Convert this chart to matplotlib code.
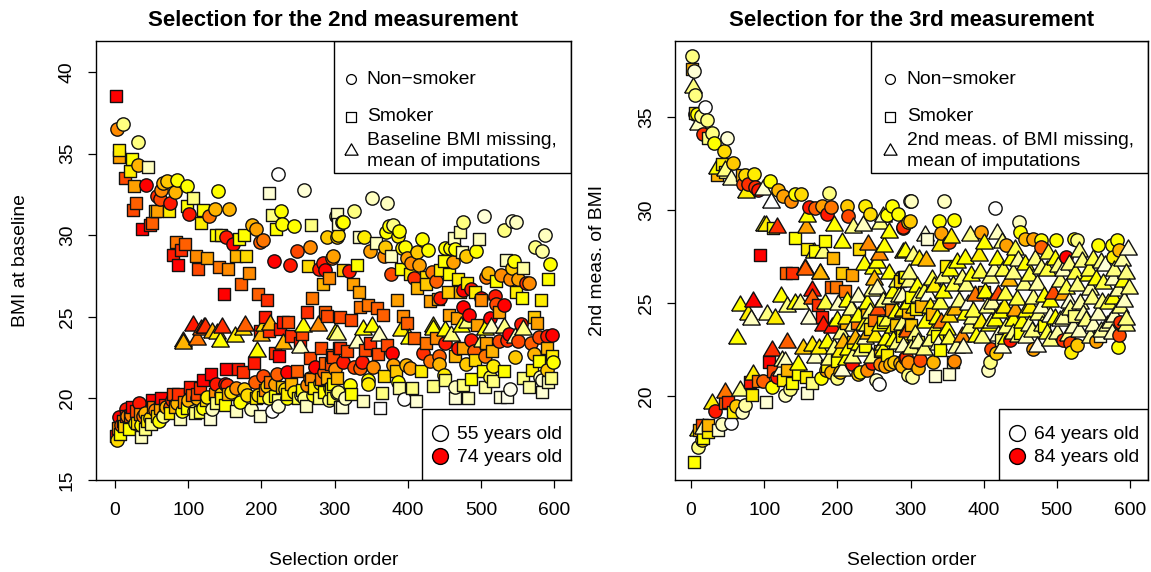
import matplotlib
matplotlib.use("Agg")
import matplotlib.pyplot as plt
from matplotlib.colors import LinearSegmentedColormap
from matplotlib.patches import Rectangle

plt.rcParams['font.family'] = ['Liberation Sans', 'DejaVu Sans']

# (selection order, BMI, colour level: 55 = palest ... 74 = red)
left_circles = [
(11.4,36.8,60),(2.3,36.5,68),(31,35.7,60),(31,34.3,66),(42,33.1,74),(223,33.75,55),(258,32.75,57),(141,32.7,62),
(84,33.4,62),(71,33.3,65),(66,33.2,66),(98,33,62),(81.5,32.65,66),(62.4,32.8,68),(57,32.4,72),(61.5,32.2,71),
(75,32,73),(101.5,31.3,73),(128,31.2,69),(136,31.6,66),(156,31.6,66),(227,31.5,62),(228,30.7,62),(245,30.55,62),
(187.5,30.6,66),(193,30.4,67),(198,29.6,70),(202,29.7,69),(151,29.9,73),(161,29.45,74),(290,29.9,65),(303,29.9,65),
(302,31.2,60),(310,30.8,62),(266,29.3,68),(248,29.05,71),(217,28.4,74),(239,28.2,73),(284,28.3,73),(298,28.7,67),
(296,28.6,70),(279,27.9,73),(287,27.85,74),
(351,32.25,58),(372,32,58),(327,31.5,60),(312,30.8,62),(304,30,64),(340,29.9,63),(380,30.6,60),(375,30.55,62),
(370,30.2,62),(388.6,30.25,62),(387,29.95,63),(348.5,29.05,67),(367,28.7,68),(369.5,29.3,65),(396,29.3,62),(392,29.2,63),
(412,29,65),(420,29.75,62),(427.5,29.1,62),(399,28.6,67),(405,28.3,68),(416,28.2,67),(377,27.65,71),(409,27.35,72),
(433,27.75,69),(438,27.2,70),(451,29.2,62),(458,29.2,62),(465,29.15,62),(493.5,29.05,62),(480,28.7,65),(462,28.35,67),
(476,30.8,60),(503.5,31.2,57),(531,30.3,60),(542.5,30.9,57),(547.5,30.8,58),(588,30,58),(574,29.25,60),(584,29.05,59),
(594.5,28.25,62),(545,28.4,62),(542,28,65),(509,27.7,66),(507,27.45,69),(527,27.55,68),(540,27.3,68),(551,27.3,67),
(562,27.1,72),(566,27.1,68),(487,26.7,73),(476,26.65,74),(444,26.15,73),(500,26.15,74),(519,26.3,73),(520,25.8,71),
(532,25.7,74),(476,25.6,74),(484,25.1,74),(513,24.9,74),(554.5,24.55,73),(537.8,23.95,74),(536,23.6,72),(524,23.5,71),
(551,23.5,71),(597,23.9,74),(590,23.85,73),(578.6,23.75,71),(569,23.4,70),(487,23.6,73),(451,23.4,73),(468,23.1,73),
(491,22.9,70),(505,22.6,69),(421,22.8,72),(430,22.3,69),(443,22.6,70),(443,22.1,66),(319,27.8,73),(379,22.8,74),
(353,21.9,68),(338,22.2,73),(312,22.2,73),(326,21.95,71),(335,21.85,70),(546.9,22.55,65),(573,22.75,66),(598,22.2,62),
(590,21.75,65),(380,22.05,67),(398,22.05,66),(402.5,21.85,67),(321,20.8,62),(346,21.1,62),(387,21,62),(395,19.95,55),
(449,21.45,63),(465,20.7,58),(512,21.3,61),(540,20.55,56),(580,21.3,58),(583,21.1,57),(305,20.4,60),(314,20,58),
(346,20.9,63),(517,22,63),(479,22.1,65),
(3,17.45,64),(5,18.85,74),(14.6,19.35,73),(32.8,19.7,73),(16,18.9,68),(27.3,18.5,62),(41,19.1,66),(38.7,18.9,69),
(54.7,19.3,68),(66,18.9,60),(77.5,19.9,72),(75,19.5,70),(91,19.2,62),(112,20,66),(125.3,20.1,63),(132,19.35,58),
(150,20.9,74),(138,20.9,73),(152.6,20.8,72),(165.4,20.65,68),(171,19.8,62),(185.4,19.35,58),(214,19.25,55),(223,19.55,57),
(176,20.55,65),(191,21,70),(207,20.75,65),(202.7,21.4,71),(221,21.5,70),(219,20.9,67),(234.6,21.6,74),(232,20.55,64),
(234.6,20,62),(254,20.2,58),(262,20.85,68),(266.5,21.25,70),(280.5,20.95,62),(273.6,21.9,74),(303,20.35,60),(294,20.65,63),
(196,20.2,64),(210,20,61),(244,20.4,63),(258,20,60),(270,20.2,62),(285,21.6,70),(300,21.8,68),(292,19.9,60),
(8,18.4,70),(22,19,68),(36,18.4,62),(48,18.8,64),(60,18.6,62),(70,19.5,66),(85,19.7,66),(100,19.9,66),
(108,19.2,60),(120,19.4,62),(145,20.3,65),(158,20.4,64),(180,20.2,64),
]
left_squares = [
(1,38.5,74),(5.5,35.2,63),(5,34.8,67),(23.6,34.65,62),(45.6,34.2,58),(20.5,33.95,63),(13.7,33.5,71),(26,33,67),
(28.7,32,70),(24,31.55,71),(107,32.3,60),(99,31.8,62),(120.5,31.55,62),(117.5,30.75,63),(54.7,31.5,65),(58,31.5,67),
(73.8,31.5,63),(50.6,30.75,70),(48,30.6,72),(36.5,30.4,74),(138,30,62),(145,30,63),(169.5,29.75,62),(176.5,30,62),
(165,28.7,66),(179,28.7,64),(210.7,32.6,57),(214.6,31.25,60),(220,30.4,62),(268,30.6,60),(303,31.3,58),(83,29.6,69),
(95.7,29.45,70),(90,29.1,72),(79.5,28.8,73),(110.7,28.7,68),(125.7,28.6,67),(86,28.15,74),(114,27.95,71),(142,28.05,69),
(154,27.95,68),(182.7,27.7,68),(264,28.1,64),(172,27,70),(148.5,26.4,74),(195.4,26.4,70),(207.7,26.05,72),(269.3,26.15,69),
(262.4,25.3,72),(292.5,27.35,68),(284.7,27,66),(287,25.3,70),(289,25.05,71),(205,25,73),(237,24.7,71),(230,24.7,73),
(198,24.1,73),(210.5,24.1,72),(225.5,24.25,73),(240,23.85,72),(255,23.95,71),(253,23.4,73),(218.7,22.8,72),(224,22.6,74),
(281.5,23.1,71),(266.5,22.45,71),(287,22.15,70),(296,22.65,70),(295,22.1,71),(306,23.1,71),(189.5,22.15,73),(152,21.8,74),
(168,21.8,73),(131,21.5,74),(174.5,21.6,72),(120.5,21.1,74),(248,21.65,70),
(305,30.7,57),(333,29.9,58),(356.5,29.55,58),(377.6,28.7,58),(331,28.2,62),(463,29.8,58),(471,30.2,59),(497,29.75,58),
(474,29,58),(449,28.4,62),(444.6,27.85,63),(456,27.6,62),(469,27.3,63),(481,27.05,63),(390.5,27.95,62),(403,27.65,63),
(425,27.45,64),(425,27,65),(413,26.75,66),(430,25.95,67),(441,26.1,67),(455,26.5,65),(472,26.5,66),(492,26.5,63),
(500,26,68),(520,27.2,62),(534.5,28.5,58),(558,28,59),(591,27.3,62),(548,26.5,63),(556.6,26.15,62),(582,26,63),
(312,27.85,65),(325,27,67),(333,26.5,67),(385,26,67),(335,25.6,69),(346,25.7,69),(358,25.55,70),(366,25.1,70),
(394,25.05,68),(398.7,24.6,70),(307,25,71),(322,24.8,71),(456,25.1,67),(467,24.9,67),(494,24.5,67),(525,25.3,67),
(573,25,65),(577,24.6,67),(408,23.7,70),(425,23.4,69),(439,23.7,68),(476,23.1,67),(507,23.4,67),(515,22.9,66),
(590,23.1,66),(307,23.1,72),(317,22.9,71),(342,22.95,71),(359,22.75,71),(371,23.3,71),(348,23.4,72),(298,22.55,71),
(465,22.6,66),(368,21.4,64),(384,21.7,65),(417.5,21.7,63),(491.6,22.35,64),(502.6,21.65,62),(532,21.7,62),(579,22.3,62),
(570,21.75,63),(597,22.6,63),(558,21.25,60),(596,21.25,60),(451,21.15,60),(435,20.75,60),(406,20.65,60),(388,20.65,59),
(365,20.35,60),(322,20.3,62),(298,20.9,62),(475,20.8,60),(487,21.2,62),(516,21.05,60),(505,20.7,59),(566,20.7,59),
(592,21,58),(583,20.4,57),(482,20.05,58),(464,20,57),(411,19.85,57),(339,19.85,58),(310,19.5,57),(362,19.4,55),
(526,20.1,57),(535,20.1,56),
(1,17.7,74),(6.5,17.8,62),(4.6,18.2,68),(19.6,18.1,62),(10.5,18.6,69),(23.5,19.5,74),(20.5,18.9,70),(35.6,17.65,58),
(41,18.15,60),(49,18.45,60),(34,19.05,68),(50.4,19.9,74),(63,20.05,74),(52.4,19.5,69),(75,19.1,63),(89,18.75,58),
(98,19.4,62),(79,20.3,71),(86.6,20.3,72),(102.5,20.7,73),(116,20.65,72),(109.3,19.1,60),(116,19.15,61),(130,18.75,57),
(136.7,20.3,68),(150.4,19.6,62),(165.4,19.2,58),(155,20.3,66),(192,20,63),(197.5,18.9,57),(202,20.1,63),(218,20.15,62),
(235,20.3,63),(261,19.55,58),(279,20,60),(272,20.65,63),(290,21.25,66),(303,21.25,66),(295,20.6,62),(307,19.5,58),
(205,20.5,68),(212,21,69),(228,20.7,65),(240,20.9,66),(256,20.5,62),(268,21.2,68),(282,21.2,69),(298,20,61),
(285,20.4,62),(250,20,61),(222,19.9,60),
(12,18.3,65),(15,18.9,72),(28,19.2,71),(30,18.5,64),(44,18.6,63),(58,18.9,64),(62,19.4,67),(68,19.6,72),
(82,19.5,66),(94,19.8,68),(105,20.2,70),(112,20.3,71),(124,19.9,64),(138,19.7,60),(145,20,63),
]
left_triangles = [
(107,24.6,73),(121.6,24.5,71),(118,24.4,70),(123,24.5,72),(146,24.5,72),(132.5,24.2,66),(139,24.1,63),(177.7,24.6,70),
(175,24.35,64),(163.6,23.95,63),(144,23.65,62),(112,23.75,69),(93,23.65,68),(93,23.5,66),(194,23,62),(212,24.7,66),
(203,24.6,64),(200,24,66),(257,24.55,62),(277,24.6,68),(300.7,24.1,62),(229.7,23.5,66),(253,23.3,58),
(303,24.05,60),(330,23.55,58),(339,24.4,62),(351,24.55,62),(361,24,58),(391,24.3,63),(402,23.8,62),(435,24.55,63),
(435,24.4,62),(451,24.3,62),(459,24,60),(473,24.55,62),(481,24.8,60),(501,23.65,60),(513.5,24.5,58),(505,24.4,62),
(532,24.5,60),(558,24.4,60),(546,23.9,58),
]
right_circles = [
(1.8,38.3,60),(4,37.45,57),(6,36.2,60),(19,35.55,55),(5.5,35.15,66),(8.6,35.15,62),(13.2,35.05,60),(21.4,34.85,60),
(16.9,34.1,72),(29.2,34.15,60),(31.9,33.6,62),(48.8,33.85,57),(44.6,33.15,64),(57.9,32.55,65),(73.8,31.9,64),(86.6,31.95,63),
(71.6,31.4,71),(78.4,31.4,72),(87.5,31.25,72),(92,31.05,73),(108,31.55,62),(119.4,31.05,66),(126,30.75,67),(136,30.5,68),
(142,30.85,62),(150.8,30.85,64),(188.6,30.9,60),(161.7,30.15,73),(169.5,30.1,70),(178.6,30.2,67),(185.5,29.8,73),(192,30.15,69),
(212.8,30.2,65),(215,29.7,71),(237.3,30.2,63),(244.7,29.8,64),(267.4,29.75,62),(274.3,30.2,62),(282.5,29.8,62),(290,29.05,71),
(297,29.35,65),(299,30.5,60),
(10,17.25,60),(15,17.65,64),(32.8,19.2,73),(41.9,18.5,58),(55,18.55,55),(69,19.15,58),(73.8,19.5,59),(62,19.45,65),
(98.9,20.8,70),(110,20.5,62),(129,20.05,58),(135,20.4,60),(117,21,73),(177,20.95,62),(199,20.95,60),(203.6,21.3,65),
(219.5,21.7,73),(231,21.3,63),(228.7,21.2,65),(253,20.85,58),(257,20.65,55),(247,21.75,73),(258,21.7,68),(265,21.6,67),
(272,21.7,66),(285.7,21.75,66),(297,21.15,60),(294,22.1,72),(185,21.4,67),(192,21.3,66),
(300.7,30.5,58),(346,30.5,58),(415,30.1,55),(448,29.35,58),(299,29.4,65),(290,29.1,72),(339,29.4,62),(360,29.45,62),
(341,28.75,67),(352,28.3,71),(397,28.8,67),(431,28.1,67),(450,28.8,62),(457,28.45,66),(468,28.45,67),(479,28.4,62),
(479,28,70),(499,28.4,62),(523,28.45,62),(527,28.4,60),(513,27.45,74),(556,28.1,62),(575,28.1,62),(582,28.4,62),
(585.5,27.85,66),(577,27.5,63),(302,21,59),(405.5,21.4,58),(408,21.8,60),(410,22.5,71),(417,22.3,65),(467,22.5,67),
(509,23,72),(519.5,22.35,63),(527,22.75,65),(518,22.85,71),(554,22.95,67),(584,22.65,62),(585.5,23.3,71),(587,24,72),
(436,23,73),(297,21.85,68),(288,21.6,66),(313,21.95,71),(331,21.85,66),(292,22.05,73),
(240,21.4,68),(278,21.8,65),(310,21.5,66),(360,21.9,68),
]
right_squares = [
(0.9,37.6,66),(5.5,35.2,64),(23.7,33.85,60),(42,32.45,63),(35,31.9,66),(46.5,32.05,60),(69.3,31.9,66),(142,28.5,62),
(94.3,27.6,74),(112.5,29.05,62),(183.3,28.35,62),(159,27.9,63),(169,27.8,62),(194.6,27.4,66),(230,27.9,64),
(130,26.6,70),(138.5,26.6,72),(191,25.88,70),(198,25.85,69),(210,25.65,69),(207,26.6,65),(220.5,26.5,67),(291,26.4,62),
(285,26.2,64),(272.9,24.6,68),(227,23.9,69),(250.6,24.1,69),(179.5,24.25,73),(174,24.9,72),(106.6,21.8,74),(4.6,16.45,62),
(16.9,17.75,62),(11.4,18.15,66),(23.7,18.05,63),(14.6,18.45,71),(23.7,18.45,66),(37,18.15,57),(46.5,19.6,70),(51,19.7,72),
(58,19.15,63),(80.6,20.75,73),(83,20.05,63),(92,20.8,69),(102.5,19.7,57),(112.5,21.35,71),(130.5,21.4,66),(126,20.85,63),
(146,21.2,62),(157,21,63),(158,20.15,57),(166,20.7,60),(137.5,20.7,62),(186,21.6,63),
(322,28.45,57),(348,27,63),(292.5,26.4,62),(315,24.85,66),(308,24.7,63),(334,21.1,57),(353,21.2,57),(358,21.85,58),
(340,22.45,62),(336,23.2,62),(523.5,24.3,60),(559,23.2,57),(288,23.2,63),(423,23,60),(482,23.75,62),(450,23.4,62),(400,25.6,66),
(240,24.5,66),(245,23.6,64),(262,24,62),(280,23.8,65),(296,24.5,66),(300,25.3,62),(310,22.9,61),(268,22.2,63),
(258,22.4,66),(212,23.9,66),(222,22.9,63),(238,22.7,62),(200,21.9,62),(300,23.8,65),(330,24.4,66),
]
right_triangles = [
(2.4,36.7,60),(10,34.75,58),(35,32.35,62),(46.5,32.25,60),(54,31.8,58),(75,31.05,63),(98,31.25,57),(109,30.55,55),
(100,29.3,62),(103,29.3,63),(117,29.2,72),(157,29.2,67),(159,29.8,62),(195.5,29.3,62),(221,29.2,60),(235.6,29.3,58),
(263,29.8,58),(270,28.9,62),(258.5,29.4,60),(206,28.4,62),(242,28.3,68),(264,28.15,62),(257.5,27.75,68),(168,27.85,62),
(181,27.85,60),(156,26.95,70),(254,27.3,62),(236,27.2,62),(290,27.85,62),(176,26.7,64),
(67,24.98,62),(85.3,25.2,74),(78.4,24.5,63),(81.7,24.25,58),(103.4,24.5,60),(114.8,24.3,63),(62.4,23.2,62),(122.5,25.5,62),
(130.7,24.95,60),(142,25.1,62),(149,25.1,60),(161.7,24.3,57),(165,25.8,73),(165,25.4,70),(155.8,27,71),(176.3,26.7,66),
(183,25.1,61),(181,23.9,73),(193,23.8,73),(201,25.05,58),(228.7,25.5,58),(212.8,25.2,62),(240,25.1,62),(250,26.4,66),
(249,27,62),(270,26.7,62),(256,24.8,71),(290,24.65,63),(284,25.5,60),(276,25.7,62),(110.2,22.6,72),(131.6,23,70),
(153.5,22.7,65),(166,22.85,63),(175.4,22.7,63),(146.7,21.85,62),(169,22.2,58),(189,22.1,60),(129,22,58),(123,21.5,57),
(206,21.5,57),(204,22.5,63),(215,22.65,62),(224,23.25,66),(251,23.35,63),(242,23.5,66),(267,23.15,62),(281,22.95,60),
(233,22.6,60),(247,22.2,60),(263,22.6,62),(85,21.3,63),(67,20.45,60),(46.5,20.3,69),(29.2,19.75,63),(17,18.4,58),
(10,18.3,62),(124,22.05,59),(208,23,66),(295,23.7,70),
(320,28.75,57),(381.3,28.75,60),(356,28.65,63),(340,28.2,63),(400,28.35,62),(418,28.85,58),(425,28.4,60),(443,28,61),
(292,27.9,62),(304,27.7,60),(311,27.5,63),(321.5,27.4,66),(374.6,27.55,62),(393,27.7,63),(418,27.45,62),(438,27.5,62),
(488,27.8,61),(497,27.5,62),(470,27.45,60),(456,27.2,62),(534,27.35,60),(550,27.5,61),(566,27.15,57),(597,28,57),
(589,27.4,59),(543,26.6,62),(525,26.7,61),(595,26.7,60),(599,25.9,60),(577,26.4,58),(509,26.9,58),(486,26.9,61),
(395,26.8,61),(370,26.45,60),(354,26.9,62),(329,26.4,61),(434,26.35,66),(455,26.15,60),(473,26.15,59),(288,25.5,58),
(345,25.7,62),(324,25.55,56),(402,25.7,62),(429,25.6,61),(388,25.55,69),(420,25.6,71),(495,25.65,71),(508,25.6,67),
(516,25.15,57),(561.5,25.15,60),(545,25.85,59),(577,25.35,62),(482,25.5,62),(463,24.9,63),(443,24.75,67),(379,25.05,56),
(340,25.1,61),(361,24.8,66),(290,24.75,63),(319.5,24.1,62),(384,24.3,60),(422,24.6,62),(474,24.5,60),(491,24.4,57),
(509,24.3,59),(536,24.5,59),(595,24.25,60),(577.5,24.4,58),(407,23.9,62),(349.5,23.7,62),(306,23.45,60),(333,23.7,61),
(390,23.35,62),(452,24.1,62),(486,23.5,61),(550,23.9,58),(568,23.9,59),(372,22.75,57),(362,22.75,59),(318,22.65,60),
(473,22.8,56),(425,22.75,57),(447.5,23.35,60),(295,23.6,70),(342,24.1,69),(370,23.35,68),
(305,24.9,63),(312,25.5,60),(326,24.9,63),(336,24.3,62),(352,24.4,64),(366,25.2,60),(375,24.5,62),(386,24.7,61),
(396,24.1,63),(404,24.9,60),(412,25.1,59),(416,24.2,62),(428,24.9,63),(431,23.8,60),(440,24.2,62),(446,25.3,61),
(458,24.7,62),(462,23.9,59),(468,25.4,60),(478,24.9,58),(480,23.9,60),(491,25.2,62),(497,24.3,62),(500,23.5,59),
(504,26.3,60),(512,25.9,61),(518,24.8,60),(522,23.8,58),(528,26.1,60),(531,25.1,59),(540,24.2,60),(544,26.9,61),
(548,25.4,60),(553,26.4,62),(556,24.5,58),(560,27.3,60),(563,26.2,61),(570,25.1,61),(573,24.1,59),(578,26.9,60),
(583,25.8,59),(586,24.9,60),(590,26.3,62),(592,25.2,58),(594,23.9,60),
(298,26.3,60),(309,26,62),(318,25.7,61),(332,26,63),(344,26.5,60),(358,26.1,61),(364,27.3,62),(376,26.1,60),
(382,26.6,62),(408,26.5,60),(414,26.9,59),(426,26.9,61),(440,26.7,60),(447,27.4,59),(462,26.6,61),(478,27,60),
(502,27.1,60),(517,27.2,60),(530,27.9,60),
(300,22.7,60),(310,23,59),(326,23.1,60),(338,22.9,58),(352,23.2,61),(380,23.8,60),(398,23.3,60),(410,24.1,59),
(420,23.4,57),(430,23.2,62),(440,23.5,60),(458,23.3,58),(466,23.6,60),(490,23.1,60),(505,24.2,58),(515,23.4,60),
(530,23.6,58),(545,23.3,59),(560,23.6,59),(575,23.5,58),
(200,24.2,62),(205,23.5,60),(212,24.3,63),(218,24.8,60),(222,23.9,59),(228,24.4,62),(236,24,63),(238,23.2,58),
(244,24.6,60),(248,25.8,60),(254,25.9,58),(258,23.9,62),(262,25.2,60),(268,24.2,61),(272,25.4,59),(276,23.8,62),
(280,24.6,62),(282,26.3,61),(288,24,60),(296,25.1,62),(298,26.7,60),(276,23.1,62),(262,22.9,60),(290,22.8,58),
(240,23.9,61),(230,22.9,62),(220,22.2,60),(212,22.1,62),(196,22.7,60),(186,23,62),
]
x_ticks = [0, 100, 200, 300, 400, 500, 600]
left_y_ticks = [15, 20, 25, 30, 35, 40]
right_y_ticks = [20, 25, 30, 35]

LO, HI = 55, 74
stops = [(55,'#FFFFFF'),(58,'#FFFFC0'),(60,'#FFFF80'),(62,'#FFFF00'),(65,'#FFC800'),
         (67,'#FFA000'),(70,'#FF6000'),(72,'#FF3000'),(74,'#FF0000')]
cmap = LinearSegmentedColormap.from_list('heat', [((a-LO)/(HI-LO), c) for a, c in stops])
def colour(v):
    return cmap((v-LO)/(HI-LO))

TRI = [(-0.5,-0.43),(0.5,-0.43),(0,0.43),(-0.5,-0.43)]
EC = '#111111'
FS = 13.9

fig = plt.figure(figsize=(11.51, 5.72), dpi=100)
W, H = 1151, 572

def make_axes(x0, x1, y0, y1):
    return fig.add_axes([x0/W, 1-y1/H, (x1-x0)/W, (y1-y0)/H])

def draw(ax, circles, squares, triangles):
    for rows, marker, s in ((circles,'o',92),(squares,'s',86),(triangles,TRI,160)):
        for x, y, c in rows:
            ax.scatter([x],[y],s=s,marker=marker,facecolor=[colour(c)],edgecolor=EC,
                       linewidth=1.0,zorder=3+x/1000)

def note_box(ax, x0, y0, x1, y1):
    ax.add_patch(Rectangle((x0,y0),x1-x0,y1-y0,transform=ax.transAxes,facecolor='white',
                           edgecolor='black',linewidth=1.0,zorder=10))

def finish(ax, xlim, ylim, yticks, ylabel, title, ylabel_x):
    ax.set_xlim(*xlim); ax.set_ylim(*ylim)
    ax.set_xticks(x_ticks); ax.set_yticks(yticks)
    ax.tick_params(length=5.8, width=0.9, labelsize=FS)
    ax.tick_params(axis='x', pad=10)
    ax.tick_params(axis='y', pad=8.7)
    for t in ax.get_yticklabels():
        t.set_rotation(90); t.set_va('center')
    ax.set_xlabel('Selection order', fontsize=FS, labelpad=24)
    ax.set_ylabel(ylabel, fontsize=FS)
    ax.yaxis.set_label_coords(ylabel_x, 0.5)
    ax.set_title(title, fontsize=16.0, fontweight='bold', pad=11)
    for s in ax.spines.values():
        s.set_linewidth(1.0); s.set_zorder(11)

def legends(ax, bx, mx, tx, third, young, old, b2x):
    note_box(ax, bx, 0.7, 1, 1.0)
    marker_ys = [0.913, 0.827, 0.755]
    text_ys = [0.913, 0.827, 0.75]
    for my, y, m, s, lab in zip(marker_ys, text_ys, ['o','s',TRI], [50,50,90],
                                ['Non\u2212smoker','Smoker', third]):
        ax.scatter([mx],[my],s=s,marker=m,facecolor='white',edgecolor='black',linewidth=0.9,
                   transform=ax.transAxes,zorder=12)
        ax.text(tx, y, lab, transform=ax.transAxes, fontsize=FS, va='center', ha='left',
                zorder=12, linespacing=1.32)
    note_box(ax, b2x, 0, 1, 0.162)
    for y, lab, v in ((0.107,young,55),(0.055,old,74)):
        ax.scatter([b2x+0.038],[y],s=130,marker='o',facecolor=[colour(v)],edgecolor='black',linewidth=1.0,
                   transform=ax.transAxes,zorder=12)
        ax.text(b2x+0.075, y-0.004, lab, transform=ax.transAxes, fontsize=FS, va='center', ha='left', zorder=12)

ax1 = make_axes(96, 571, 41, 480)
draw(ax1, left_circles, left_squares, left_triangles)
finish(ax1, (-26, 623), (15, 41.9), left_y_ticks, 'BMI at baseline',
       'Selection for the 2nd measurement', -0.142)
legends(ax1, 0.5, 0.536, 0.57, 'Baseline BMI missing,\nmean of imputations', '55 years old', '74 years old', 0.686)

ax2 = make_axes(675, 1148, 41, 480)
draw(ax2, right_circles, right_squares, right_triangles)
finish(ax2, (-21.9, 624.6), (15.48, 39.09), right_y_ticks, '2nd meas. of BMI',
       'Selection for the 3rd measurement', -0.146)
legends(ax2, 0.415, 0.455, 0.49, '2nd meas. of BMI missing,\nmean of imputations', '64 years old', '84 years old', 0.685)

fig.savefig('out.png', dpi=100)
